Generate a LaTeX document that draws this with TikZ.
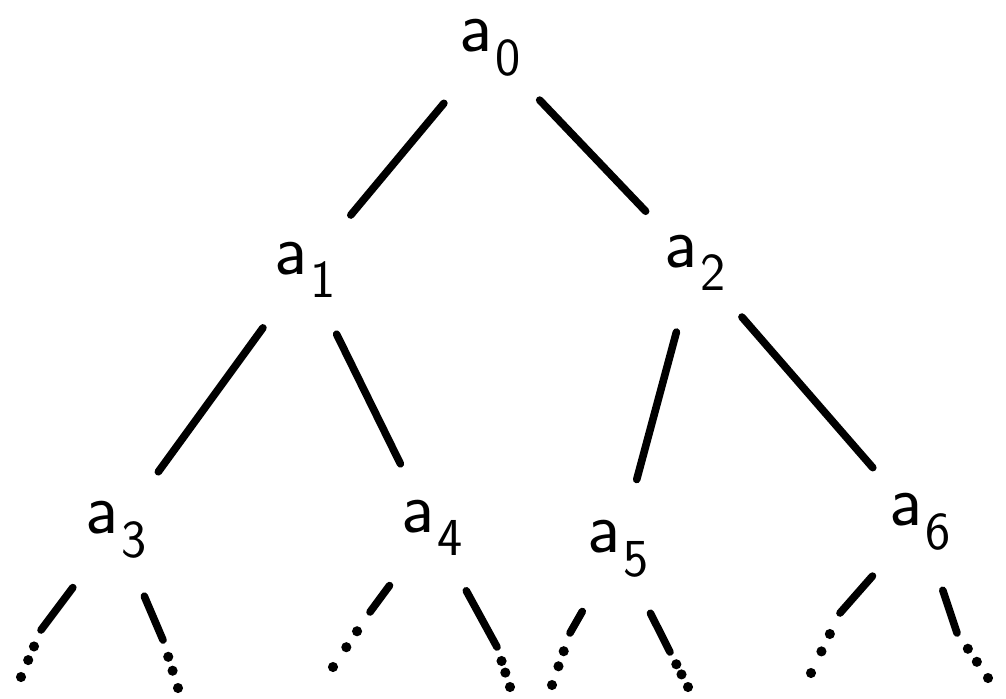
\documentclass[tikz,border=0pt]{standalone}
\usepackage{tikz}
\usetikzlibrary{calc}

\tikzset{
  vertex/.style={circle, minimum size=1.5cm, inner sep=0pt,
    font=\sffamily\fontsize{52}{60}\selectfont},
  branch/.style={line width=5.4pt, line cap=round, shorten <=0.75cm},
  link/.style={branch, shorten >=0.75cm},
}
% label a_i, index set a bit lower and smaller
\newcommand{\lbl}[1]{a\kern2pt\raisebox{-0.75ex}{\fontsize{38}{40}\selectfont#1}}
% three dots trailing off from #1 towards #2
\newcommand{\trail}[2]{%
  \foreach \f in {0.35,0.64,1}
    \fill ($(#1)!\f!(#2)$) circle (3.6pt);}

\begin{document}
\begin{tikzpicture}[x=0.025cm, y=-0.025cm]
  \useasboundingbox (0,0) rectangle (1006,698);
  % the labels
  \node[vertex] (a0) at (490,48) {\lbl0};
  \node[vertex] (a1) at (305,270) {\lbl1};
  \node[vertex] (a2) at (695,263) {\lbl2};
  \node[vertex] (a3) at (116,530) {\lbl3};
  \node[vertex] (a4) at (432,528) {\lbl4};
  \node[vertex] (a5) at (618,549) {\lbl5};
  \node[vertex] (a6) at (920,522) {\lbl6};
  % edges between the levels
  \draw[link] (a0) -- (a1);
  \draw[link] (a0) -- (a2);
  \draw[link] (a1) -- (a3);
  \draw[link] (a1) -- (a4);
  \draw[link] (a2) -- (a5);
  \draw[link] (a2) -- (a6);
  % open ends at the bottom
  \coordinate (s3l) at (41,630);  \coordinate (d3l) at (21,677);
  \coordinate (s3r) at (163,640); \coordinate (d3r) at (178,688);
  \coordinate (s4l) at (370,612); \coordinate (d4l) at (333,667);
  \coordinate (s4r) at (497,647); \coordinate (d4r) at (510,687);
  \coordinate (s5l) at (570,633); \coordinate (d5l) at (552,685);
  \coordinate (s5r) at (670,652); \coordinate (d5r) at (688,687);
  \coordinate (s6l) at (840,613); \coordinate (d6l) at (811,673);
  \coordinate (s6r) at (957,633); \coordinate (d6r) at (988,678);
  \draw[branch] (a3) -- (s3l); \trail{s3l}{d3l}
  \draw[branch] (a3) -- (s3r); \trail{s3r}{d3r}
  \draw[branch] (a4) -- (s4l); \trail{s4l}{d4l}
  \draw[branch] (a4) -- (s4r); \trail{s4r}{d4r}
  \draw[branch] (a5) -- (s5l); \trail{s5l}{d5l}
  \draw[branch] (a5) -- (s5r); \trail{s5r}{d5r}
  \draw[branch] (a6) -- (s6l); \trail{s6l}{d6l}
  \draw[branch] (a6) -- (s6r); \trail{s6r}{d6r}
\end{tikzpicture}
\end{document}
